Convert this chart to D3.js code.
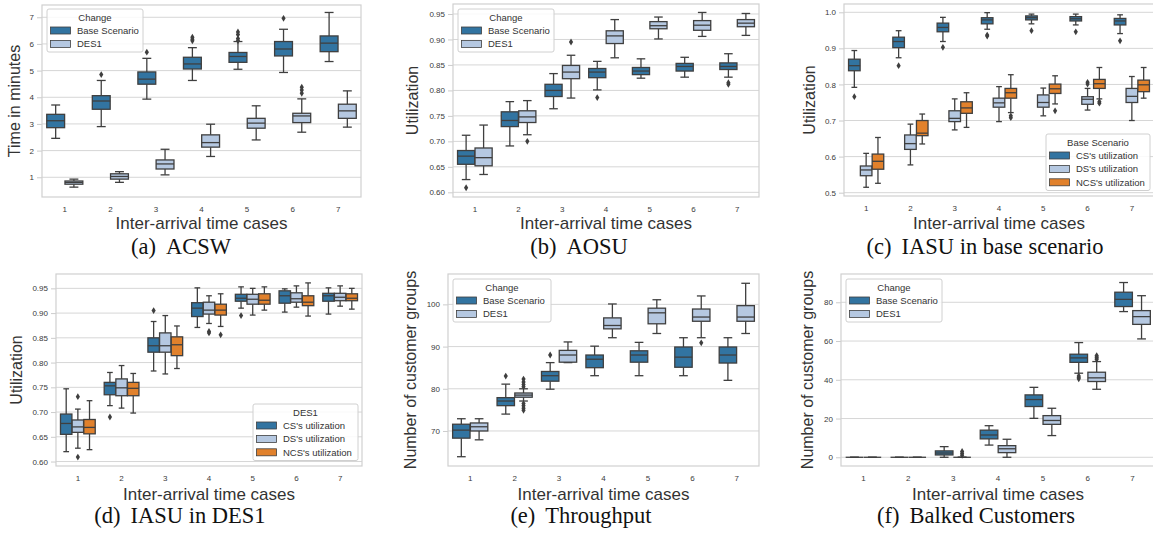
<!DOCTYPE html>
<html>
<head>
<meta charset="utf-8">
<script src="https://cdn.jsdelivr.net/npm/d3@7/dist/d3.min.js"></script>
<style>
  body { margin: 0; background: #fff; }
  svg { display: block; font-family: "Liberation Sans", Arial, sans-serif; }
</style>
</head>
<body>
<svg id="fig" width="1153" height="533"></svg>
<script>
var cases = ['1', '2', '3', '4', '5', '6', '7'];

// box stats per case: [whisker low, q1, median, q3, whisker high]
// outliers: [case, value]

// (a) ACSW
var acswBase = [[2.46, 2.86, 3.12, 3.36, 3.71], [2.90, 3.55, 3.86, 4.06, 4.63], [3.93, 4.49, 4.68, 4.95, 5.46],
  [4.63, 5.06, 5.25, 5.50, 5.86], [5.05, 5.31, 5.53, 5.68, 6.09], [4.93, 5.55, 5.81, 6.09, 6.55], [5.34, 5.71, 6.03, 6.30, 7.18]];
var acswBaseOut = [['2', 4.85], ['3', 5.69], ['4', 6.25], ['4', 6.18], ['4', 6.12], ['5', 6.45], ['5', 6.35], ['5', 6.2], ['5', 6.12], ['6', 6.96]];
var acswDes1 = [[0.63, 0.74, 0.81, 0.86, 0.93], [0.81, 0.93, 1.03, 1.13, 1.21], [1.09, 1.31, 1.50, 1.65, 2.05],
  [1.78, 2.13, 2.30, 2.59, 2.99], [2.40, 2.84, 3.03, 3.21, 3.68], [2.69, 3.05, 3.30, 3.40, 3.94], [2.88, 3.21, 3.49, 3.74, 4.24]];
var acswDes1Out = [['6', 4.38], ['6', 4.27], ['6', 4.15]];

// (b) AOSU
var aosuBase = [[0.625, 0.655, 0.671, 0.682, 0.712], [0.691, 0.729, 0.741, 0.758, 0.778], [0.764, 0.788, 0.800, 0.812, 0.833],
  [0.801, 0.825, 0.836, 0.843, 0.857], [0.824, 0.831, 0.838, 0.845, 0.862], [0.826, 0.838, 0.847, 0.853, 0.865], [0.826, 0.841, 0.847, 0.854, 0.872]];
var aosuBaseOut = [['1', 0.609], ['4', 0.786], ['7', 0.812], ['7', 0.815]];
var aosuDes1 = [[0.635, 0.652, 0.668, 0.687, 0.732], [0.713, 0.737, 0.748, 0.760, 0.780], [0.785, 0.823, 0.836, 0.849, 0.869],
  [0.864, 0.892, 0.907, 0.917, 0.939], [0.901, 0.921, 0.927, 0.935, 0.944], [0.906, 0.918, 0.928, 0.937, 0.953], [0.908, 0.925, 0.932, 0.939, 0.951]];
var aosuDes1Out = [['2', 0.700], ['3', 0.895]];

// (c) IASU in base scenario
var baseCS = [[0.792, 0.838, 0.852, 0.870, 0.894], [0.874, 0.902, 0.919, 0.931, 0.949], [0.919, 0.946, 0.958, 0.970, 0.986],
  [0.953, 0.968, 0.979, 0.985, 0.999], [0.968, 0.979, 0.985, 0.990, 0.995], [0.965, 0.976, 0.982, 0.988, 0.995], [0.941, 0.965, 0.976, 0.983, 0.993]];
var baseCSOut = [['1', 0.766], ['2', 0.852], ['3', 0.903], ['4', 0.937], ['4', 0.934], ['5', 0.949], ['6', 0.946], ['7', 0.921]];
var baseDS = [[0.515, 0.547, 0.563, 0.574, 0.609], [0.577, 0.620, 0.636, 0.660, 0.690], [0.674, 0.697, 0.706, 0.727, 0.760],
  [0.697, 0.737, 0.749, 0.762, 0.794], [0.713, 0.737, 0.750, 0.771, 0.790], [0.729, 0.745, 0.759, 0.766, 0.789], [0.700, 0.750, 0.767, 0.789, 0.822]];
var baseDSOut = [['6', 0.806], ['6', 0.801]];
var baseNCS = [[0.526, 0.565, 0.587, 0.607, 0.653], [0.635, 0.658, 0.665, 0.700, 0.718], [0.681, 0.720, 0.735, 0.752, 0.777],
  [0.722, 0.762, 0.777, 0.789, 0.827], [0.746, 0.775, 0.788, 0.801, 0.824], [0.760, 0.789, 0.802, 0.814, 0.847], [0.762, 0.780, 0.799, 0.812, 0.847]];
var baseNCSOut = [['4', 0.713], ['4', 0.708], ['5', 0.727], ['6', 0.752], ['6', 0.748]];

// (d) IASU in DES1
var desCS = [[0.620, 0.655, 0.677, 0.696, 0.747], [0.713, 0.735, 0.753, 0.760, 0.780], [0.783, 0.821, 0.834, 0.850, 0.883],
  [0.871, 0.893, 0.910, 0.921, 0.951], [0.910, 0.924, 0.930, 0.938, 0.953], [0.902, 0.920, 0.935, 0.945, 0.949], [0.898, 0.924, 0.935, 0.940, 0.951]];
var desCSOut = [['2', 0.690], ['3', 0.905], ['5', 0.895]];
var desDS = [[0.627, 0.659, 0.670, 0.684, 0.706], [0.708, 0.733, 0.749, 0.767, 0.794], [0.777, 0.821, 0.834, 0.860, 0.895],
  [0.879, 0.898, 0.906, 0.922, 0.935], [0.896, 0.918, 0.928, 0.938, 0.950], [0.912, 0.922, 0.929, 0.941, 0.955], [0.914, 0.925, 0.932, 0.940, 0.955]];
var desDSOut = [['1', 0.731], ['1', 0.609], ['4', 0.863], ['4', 0.860]];
var desNCS = [[0.624, 0.656, 0.669, 0.685, 0.723], [0.698, 0.733, 0.748, 0.760, 0.778], [0.788, 0.814, 0.836, 0.852, 0.874],
  [0.873, 0.896, 0.906, 0.918, 0.939], [0.906, 0.918, 0.926, 0.939, 0.953], [0.894, 0.915, 0.922, 0.935, 0.961], [0.908, 0.925, 0.930, 0.939, 0.950]];
var desNCSOut = [['4', 0.856]];

// (e) Throughput
var thrBase = [[63.9, 68.3, 70.2, 71.6, 72.9], [74.0, 76.0, 77.1, 77.9, 81.1], [79.9, 81.8, 83.1, 84.1, 86.2],
  [83.1, 85.0, 87.0, 88.0, 90.1], [83.1, 86.3, 88.0, 89.0, 91.0], [83.1, 85.1, 87.5, 89.9, 92.1], [82.0, 86.1, 88.0, 89.9, 92.1]];
var thrBaseOut = [['2', 83.0], ['3', 88.0]];
var thrDes1 = [[67.9, 70.0, 71.0, 71.9, 72.9], [77.1, 78.0, 78.5, 79.0, 80.0], [86.2, 86.3, 88.0, 89.1, 91.1],
  [92.1, 94.2, 95.0, 96.8, 100.1], [93.1, 95.4, 98.0, 99.1, 101.1], [92.1, 96.0, 97.0, 98.9, 102.0], [93.1, 96.0, 97.0, 99.7, 105.0]];
var thrDes1Out = [['2', 82.3], ['2', 81.6], ['2', 81.0], ['2', 80.5], ['2', 76.5], ['2', 76.0], ['2', 75.4], ['2', 74.9], ['6', 90.9]];

// (f) Balked Customers
var balkBase = [[0, 0, 0, 0, 0], [0, 0, 0, 0, 0], [0, 1.2, 2.2, 3.3, 5.5],
  [6.3, 9.5, 11.5, 14.0, 16.3], [20.1, 26.2, 29.8, 32.2, 36.1], [43.4, 49.0, 51.3, 53.2, 59.2], [75.2, 77.8, 81.5, 85.2, 90.2]];
var balkBaseOut = [['6', 42.0], ['6', 41.2], ['6', 40.5]];
var balkDes1 = [[0, 0, 0, 0, 0], [0, 0, 0, 0, 0], [0, 0, 0, 0, 0],
  [0, 2.4, 4.4, 6.0, 9.3], [11.2, 17.0, 19.0, 21.5, 25.3], [35.1, 39.1, 41.0, 43.9, 49.4], [61.1, 68.6, 72.6, 75.7, 83.4]];
var balkDes1Out = [['3', 1], ['3', 2], ['3', 3], ['6', 50.5], ['6', 51.2], ['6', 51.8], ['6', 52.5]];

var utilTicks = [0.60, 0.65, 0.70, 0.75, 0.80, 0.85, 0.90, 0.95];
var blue = '#3274a1', lightBlue = '#b5c8e1', orange = '#e1812c', edge = '#3f3f3f';

var svg = d3.select('#fig');

function drawPanel(p) {
  var g = svg.append('g');
  var x = d3.scaleBand().domain(cases).range([p.left, p.right]),
      y = d3.scaleLinear().domain(p.yDomain).range([p.bottom, p.top]),
      bw = x.bandwidth(),
      n = p.series.length,
      boxW = bw * 0.8 / n;

  // grid lines
  g.append('g').selectAll('line').data(p.yTicks).join('line')
    .attr('x1', p.left).attr('x2', p.right)
    .attr('y1', function (d) { return y(d); }).attr('y2', function (d) { return y(d); })
    .attr('stroke', '#d6d6d6').attr('stroke-width', 1);

  var ya = g.append('g').attr('transform', 'translate(' + p.left + ',0)')
    .call(d3.axisLeft(y).tickValues(p.yTicks).tickFormat(p.fmt).tickSize(5).tickPadding(3));
  ya.select('.domain').remove();
  ya.selectAll('line').attr('stroke', '#cccccc');
  ya.selectAll('text').attr('fill', '#3a3a3a').style('font-size', '8px');

  var xa = g.append('g').attr('transform', 'translate(0,' + p.bottom + ')')
    .call(d3.axisBottom(x).tickSize(0).tickPadding(9));
  xa.select('.domain').remove();
  xa.selectAll('text').attr('fill', '#3a3a3a').style('font-size', '8px');

  p.series.forEach(function (s, i) {
    var off = -bw * 0.4 + boxW * (i + 0.5);
    var cg = g.append('g').selectAll('g').data(s.stats).join('g')
      .attr('transform', function (d, j) { return 'translate(' + (x(cases[j]) + bw / 2 + off) + ',0)'; });
    var w = boxW * 0.98;
    // whiskers
    cg.append('line').attr('x1', 0).attr('x2', 0)
      .attr('y1', function (d) { return y(d[0]); }).attr('y2', function (d) { return y(d[1]); })
      .attr('stroke', edge).attr('stroke-width', 1.3);
    cg.append('line').attr('x1', 0).attr('x2', 0)
      .attr('y1', function (d) { return y(d[3]); }).attr('y2', function (d) { return y(d[4]); })
      .attr('stroke', edge).attr('stroke-width', 1.3);
    // caps
    [0, 4].forEach(function (k) {
      cg.append('line').attr('x1', -w / 4).attr('x2', w / 4)
        .attr('y1', function (d) { return y(d[k]); }).attr('y2', function (d) { return y(d[k]); })
        .attr('stroke', edge).attr('stroke-width', 1.3);
    });
    // box
    cg.append('rect').attr('x', -w / 2).attr('width', w)
      .attr('y', function (d) { return y(d[3]); })
      .attr('height', function (d) { return y(d[1]) - y(d[3]); })
      .attr('fill', s.color).attr('stroke', edge).attr('stroke-width', 1.3);
    // median
    cg.append('line').attr('x1', -w / 2).attr('x2', w / 2)
      .attr('y1', function (d) { return y(d[2]); }).attr('y2', function (d) { return y(d[2]); })
      .attr('stroke', edge).attr('stroke-width', 1.3);
    // outliers
    g.append('g').selectAll('path').data(s.out).join('path')
      .attr('d', 'M0,-3.4L2.1,0L0,3.4L-2.1,0Z')
      .attr('transform', function (d) { return 'translate(' + (x(d[0]) + bw / 2 + off) + ',' + y(d[1]) + ')'; })
      .attr('fill', edge);
  });

  // frame
  g.append('rect').attr('x', p.left).attr('y', p.top)
    .attr('width', p.right - p.left).attr('height', p.bottom - p.top)
    .attr('fill', 'none').attr('stroke', '#d0d0d0').attr('stroke-width', 1.2);

  // axis titles
  g.append('text').attr('x', (p.left + p.right) / 2).attr('y', p.bottom + p.xlabelGap)
    .attr('text-anchor', 'middle').attr('fill', '#333').style('font-size', '17px')
    .text('Inter-arrival time cases');
  g.append('text').attr('transform', 'translate(' + p.ylabelX + ',' + (p.top + p.bottom) / 2 + ') rotate(-90)')
    .attr('text-anchor', 'middle').attr('fill', '#333').style('font-size', '16px')
    .text(p.ylabel);

  // legend
  var L = p.legend, lg = g.append('g').attr('transform', 'translate(' + L.x + ',' + L.y + ')');
  lg.append('rect').attr('width', L.w).attr('height', 16 + 13.5 * n)
    .attr('rx', 2).attr('fill', '#fff').attr('fill-opacity', 0.85)
    .attr('stroke', '#d0d0d0').attr('stroke-width', 1);
  lg.append('text').attr('x', L.w / 2).attr('y', 11.5).attr('text-anchor', 'middle')
    .attr('fill', '#333').style('font-size', '9.5px').text(p.legendTitle);
  p.series.forEach(function (s, i) {
    var cy = 21.5 + i * 13.4;
    lg.append('rect').attr('x', 3.5).attr('y', cy - 3.5).attr('width', 20).attr('height', 7)
      .attr('fill', s.color).attr('stroke', edge).attr('stroke-width', 0.8);
    lg.append('text').attr('x', 30).attr('y', cy + 3.3)
      .attr('fill', '#333').style('font-size', '9.5px').text(s.name);
  });

  // caption
  var cap = svg.append('text').attr('x', p.capX).attr('y', p.capY).attr('text-anchor', 'middle')
    .attr('font-family', '"Liberation Serif", "Times New Roman", serif')
    .style('font-size', '22.5px').attr('fill', '#111');
  cap.append('tspan').text(p.capTag);
  cap.append('tspan').attr('dx', 10).text(p.capName);
}

var f2 = d3.format('.2f'), f1 = d3.format('.1f'), f0 = d3.format('d');

drawPanel({
  left: 42, right: 361, top: 5, bottom: 197, yDomain: [0.26, 7.46], yTicks: [1, 2, 3, 4, 5, 6, 7], fmt: f0,
  ylabel: 'Time in minutes', ylabelX: 20, xlabelGap: 32, legendTitle: 'Change', legend: { x: 47, y: 9, w: 96 },
  capX: 181, capY: 254, capTag: '(a)', capName: 'ACSW',
  series: [{ name: 'Base Scenario', color: blue, stats: acswBase, out: acswBaseOut },
           { name: 'DES1', color: lightBlue, stats: acswDes1, out: acswDes1Out }]
});
drawPanel({
  left: 453, right: 759, top: 4, bottom: 197, yDomain: [0.5908, 0.9696], yTicks: utilTicks, fmt: f2,
  ylabel: 'Utilization', ylabelX: 418, xlabelGap: 32, legendTitle: 'Change', legend: { x: 458, y: 9, w: 96 },
  capX: 579, capY: 254, capTag: '(b)', capName: 'AOSU',
  series: [{ name: 'Base Scenario', color: blue, stats: aosuBase, out: aosuBaseOut },
           { name: 'DES1', color: lightBlue, stats: aosuDes1, out: aosuDes1Out }]
});
drawPanel({
  left: 844, right: 1154, top: 4, bottom: 196, yDomain: [0.4908, 1.023], yTicks: [0.5, 0.6, 0.7, 0.8, 0.9, 1.0], fmt: f1,
  ylabel: 'Utilization', ylabelX: 815, xlabelGap: 33, legendTitle: 'Base Scenario', legend: { x: 1046, y: 134, w: 104 },
  capX: 985, capY: 254, capTag: '(c)', capName: 'IASU in base scenario',
  series: [{ name: 'CS\'s utilization', color: blue, stats: baseCS, out: baseCSOut },
           { name: 'DS\'s utilization', color: lightBlue, stats: baseDS, out: baseDSOut },
           { name: 'NCS\'s utilization', color: orange, stats: baseNCS, out: baseNCSOut }]
});
drawPanel({
  left: 56, right: 362, top: 274, bottom: 466, yDomain: [0.591, 0.979], yTicks: utilTicks, fmt: f2,
  ylabel: 'Utilization', ylabelX: 22, xlabelGap: 34, legendTitle: 'DES1', legend: { x: 253, y: 404, w: 105 },
  capX: 180, capY: 523, capTag: '(d)', capName: 'IASU in DES1',
  series: [{ name: 'CS\'s utilization', color: blue, stats: desCS, out: desCSOut },
           { name: 'DS\'s utilization', color: lightBlue, stats: desDS, out: desDSOut },
           { name: 'NCS\'s utilization', color: orange, stats: desNCS, out: desNCSOut }]
});
drawPanel({
  left: 448, right: 759, top: 274, bottom: 466, yDomain: [61.7, 107.2], yTicks: [70, 80, 90, 100], fmt: f0,
  ylabel: 'Number of customer groups', ylabelX: 416, xlabelGap: 34, legendTitle: 'Change', legend: { x: 453, y: 279, w: 98 },
  capX: 581, capY: 523, capTag: '(e)', capName: 'Throughput',
  series: [{ name: 'Base Scenario', color: blue, stats: thrBase, out: thrBaseOut },
           { name: 'DES1', color: lightBlue, stats: thrDes1, out: thrDes1Out }]
});
drawPanel({
  left: 841, right: 1155, top: 274, bottom: 466, yDomain: [-4.5, 94.6], yTicks: [0, 20, 40, 60, 80], fmt: f0,
  ylabel: 'Number of customer groups', ylabelX: 813, xlabelGap: 34, legendTitle: 'Change', legend: { x: 846, y: 279, w: 96 },
  capX: 976, capY: 523, capTag: '(f)', capName: 'Balked Customers',
  series: [{ name: 'Base Scenario', color: blue, stats: balkBase, out: balkBaseOut },
           { name: 'DES1', color: lightBlue, stats: balkDes1, out: balkDes1Out }]
});
</script>
</body>
</html>
